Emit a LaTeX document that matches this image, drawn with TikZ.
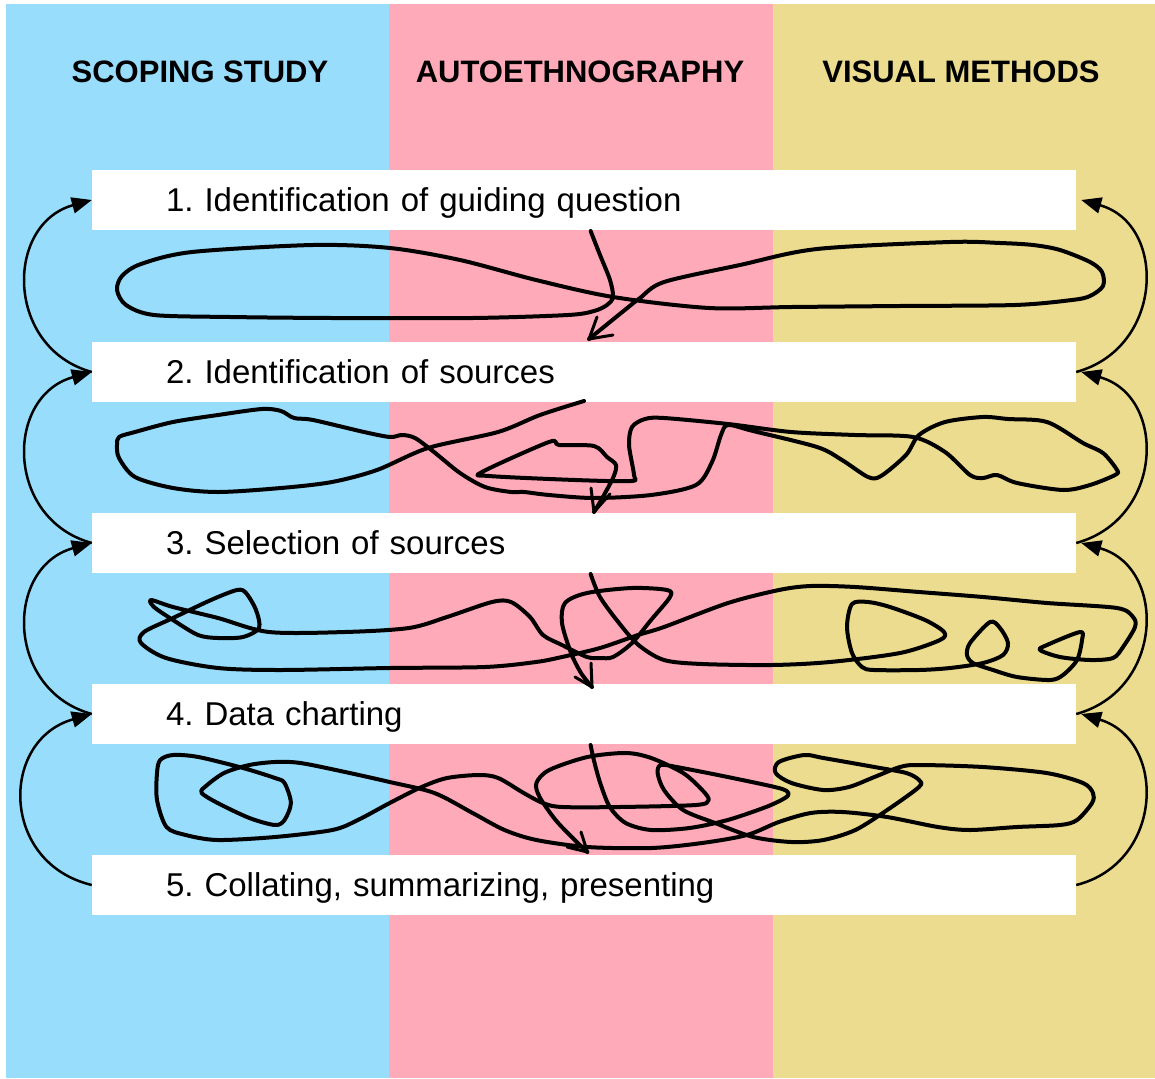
\documentclass[tikz,border=0pt]{standalone}
\usepackage{fontspec}
\setmainfont{Liberation Sans}
\usetikzlibrary{arrows.meta}
\definecolor{colblue}{RGB}{152,222,252}
\definecolor{colpink}{RGB}{255,170,185}
\definecolor{colyellow}{RGB}{236,220,143}
\frenchspacing

\begin{document}
\begin{tikzpicture}[x=1pt,y=-1pt,
  stepbox/.style={fill=white, minimum width=984pt, minimum height=60pt,
    text width=836pt, inner xsep=74pt, inner ysep=0pt, align=left,
    text height=27pt, text depth=4pt, font=\fontsize{33}{38}\selectfont},
  header/.style={anchor=base, font=\bfseries\fontsize{31}{37}\selectfont},
  loopback/.style={line width=2.5pt, -{Triangle[length=20pt,width=16pt]}},
  scribble/.style={line width=4pt, line cap=round, line join=round},
  barb/.style={line width=3pt, line cap=round, line join=round},
]
\useasboundingbox (0,0) rectangle (1155,1078);
\fill[white] (0,0) rectangle (1155,1078);

% three method columns
\fill[colblue]   (6,4)   rectangle (389,1078);
\fill[colpink]   (389,4) rectangle (773,1078);
\fill[colyellow] (773,4) rectangle (1155,1078);

\node[header] (h1) at (200,83) {SCOPING STUDY};
\node[header] (h2) at (580,83) {AUTOETHNOGRAPHY};
\node[header] (h3) at (961,83) {VISUAL METHODS};

% the five stages
\node[stepbox] (b1) at (584,200) {1. Identification of guiding question};
\node[stepbox] (b2) at (584,372) {2. Identification of sources};
\node[stepbox] (b3) at (584,543) {3. Selection of sources};
\node[stepbox] (b4) at (584,714) {4. Data charting};
\node[stepbox] (b5) at (584,885) {5. Collating, summarizing, presenting};

% iteration arcs, left side
\draw[loopback] (b2.west) .. controls +(-87,-24) and +(-87,24) .. (b1.west);
\draw[loopback] (b3.west) .. controls +(-87,-24) and +(-87,24) .. (b2.west);
\draw[loopback] (b4.west) .. controls +(-87,-24) and +(-87,24) .. (b3.west);
\draw[loopback] (b5.west) .. controls +(-92,-22) and +(-92,26) .. (b4.west);
% iteration arcs, right side
\draw[loopback] (b2.east) .. controls +(88,-24) and +(86,24) .. ([xshift=5pt]b1.east);
\draw[loopback] (b3.east) .. controls +(88,-24) and +(86,24) .. ([xshift=5pt]b2.east);
\draw[loopback] (b4.east) .. controls +(88,-24) and +(86,24) .. ([xshift=5pt]b3.east);
\draw[loopback] (b5.east) .. controls +(88,-22) and +(86,26) .. ([xshift=5pt]b4.east);

% stage 1 -> 2
\draw[scribble] plot[smooth, tension=0.5] coordinates {
 (590.6,231) (600,255) (610,280) (613,297) (607,305) (594,311) (568,315)
 (473,318) (332,318) (230,317) (154,315) (126,305) (117,290) (122,276)
 (141,264) (192,252) (313,245) (390,248) (460,260) (536,280) (613,297)
 (709,308) (792,307) (900,306) (1015,305) (1072,300) (1090,296) (1103,286)
 (1102,272) (1090,262) (1060,250) (1033,245) (1000,243) (950,242) (817,249)
 (740,265) (664,282) (640,298) (626,309) (589,339)};
\draw[barb] (597,317) -- (589,339) -- (613,335);

% stage 2 -> 3
\draw[scribble] plot[smooth, tension=0.5] coordinates {
 (584,401) (540,415) (498,432) (428,448) (377,470) (332,482) (281,488)
 (218,492) (173,488) (135,477) (119,458) (117,445) (119,437) (135,432)
 (173,422) (218,415) (262,409) (281,411) (294,418) (313,420) (364,432)
 (390,437) (402,435) (415,438) (434,452) (460,473) (485,487) (511,492)
 (524,492) (549,495) (594,498) (651,495) (696,485) (712,462) (721,435)
 (728,425) (753,431) (817,447) (842,460) (868,477) (881,476) (906,455)
 (919,435) (945,422) (983,417) (1008,419) (1047,422) (1083,443) (1103,453)
 (1117,470) (1115,475) (1090,485) (1063,490) (1017,483) (997,475)
 (983,478) (970,475) (945,452) (913,437) (855,435) (791,432) (728,424)
 (664,418) (645,419) (632,427) (629,445) (634,475) (631,481) (575,480)
 (489,476) (482,472) (549,442) (559,445) (594,446) (607,457) (616,465)
 (613,478) (600,502) (594,512)};
\draw[barb] (591,488) -- (594,512) -- (610,494);

% stage 3 -> 4
\draw[scribble] plot[smooth, tension=0.5] coordinates {
 (590.6,574) (600,597) (619,623) (638.5,645) (664,660) (702,664) (772,665)
 (830,662) (900,653) (940,640) (944,632) (925,620) (890,607) (868,602)
 (852,604) (847,627) (852,653) (862,667) (874,670) (919,670) (950,668)
 (983,663) (1003,655) (1008,643) (1000,628) (990,622) (970,643) (967,655)
 (973,663) (993,670) (1017,677) (1050,680) (1063,675) (1077,660) (1082,640)
 (1080,632) (1047,645) (1040,650) (1060,657) (1090,660) (1113,658)
 (1123,647) (1135,627) (1133,617) (1117,608) (1047,603) (983,597)
 (919,592) (855,587) (811,586) (779,590) (728,603) (664,627) (638,635)
 (600,648) (562,657) (536,662) (485,667) (390,668) (281,670) (218,668)
 (166,658) (141,643) (144,632) (173,618) (211,600) (237,590) (246,593)
 (256,610) (259,628) (243,637) (218,638) (198,635) (173,620) (154,607)
 (151,600) (173,607) (218,618) (269,632) (345,632) (409,628) (447,617)
 (492,602) (511,602) (530,617) (543,635) (562,645) (587,657) (600,658)
 (613,657) (632,643) (651,620) (670,597) (667,590) (632,588) (587,593)
 (565,603) (562,623) (571,653) (581,673) (592,687)};
\draw[barb] (591,663) -- (592,687) -- (575,677);

% stage 4 -> 5
\draw[scribble] plot[smooth, tension=0.5] coordinates {
 (590.6,745) (593.8,760) (600.2,783) (609.8,807) (625.7,823) (651.2,830)
 (689.5,828) (727.7,820) (766,807) (785,798) (788.4,793) (778.8,788)
 (727.7,777) (676.7,767) (660.8,765) (657.6,773) (664,790) (683.1,810)
 (715,823) (753.3,837) (791.5,842) (823.4,840) (855.3,830) (887.2,810)
 (919,787) (919,780) (906.3,773) (874.4,767) (823.4,758) (804.3,755)
 (778.8,762) (775.6,773) (791.5,783) (823.4,790) (848.9,787) (874.4,777)
 (900,767) (919,765) (982.9,767) (1046.6,773) (1083,783) (1093,793)
 (1092,803) (1077,820) (1060,825) (1017,827) (970,830) (938,827) (887,817)
 (842.5,812) (810.7,813) (778.8,822) (746.9,835) (702,843) (651.2,848)
 (587.4,847) (536.4,840) (504.5,830) (472.6,813) (434.4,793) (389.7,782)
 (345.1,772) (300.5,763) (275,762) (249.4,765) (224,773) (204.8,787)
 (201.6,793) (217.6,803) (249.4,818) (275,825) (284.5,820) (290.9,803)
 (284.5,783) (275,778) (243,768) (198.4,757) (172.9,755) (160.2,760)
 (157,773) (157,800) (166.5,827) (185.7,835) (217.6,840) (275,837)
 (332.3,830) (357.9,820) (389.7,803) (421.6,787) (447.1,778) (479,775)
 (498.2,778) (523.7,793) (542.8,803) (562,807) (619.3,807) (695.9,805)
 (708.6,800) (702.2,790) (683.1,773) (651.2,758) (625.7,753) (587.4,757)
 (549.2,770) (536.4,783) (539.6,797) (555.6,820) (574.7,840) (587.4,852)};
\draw[barb] (581,832) -- (587.4,852) -- (567,847);
\end{tikzpicture}
\end{document}
